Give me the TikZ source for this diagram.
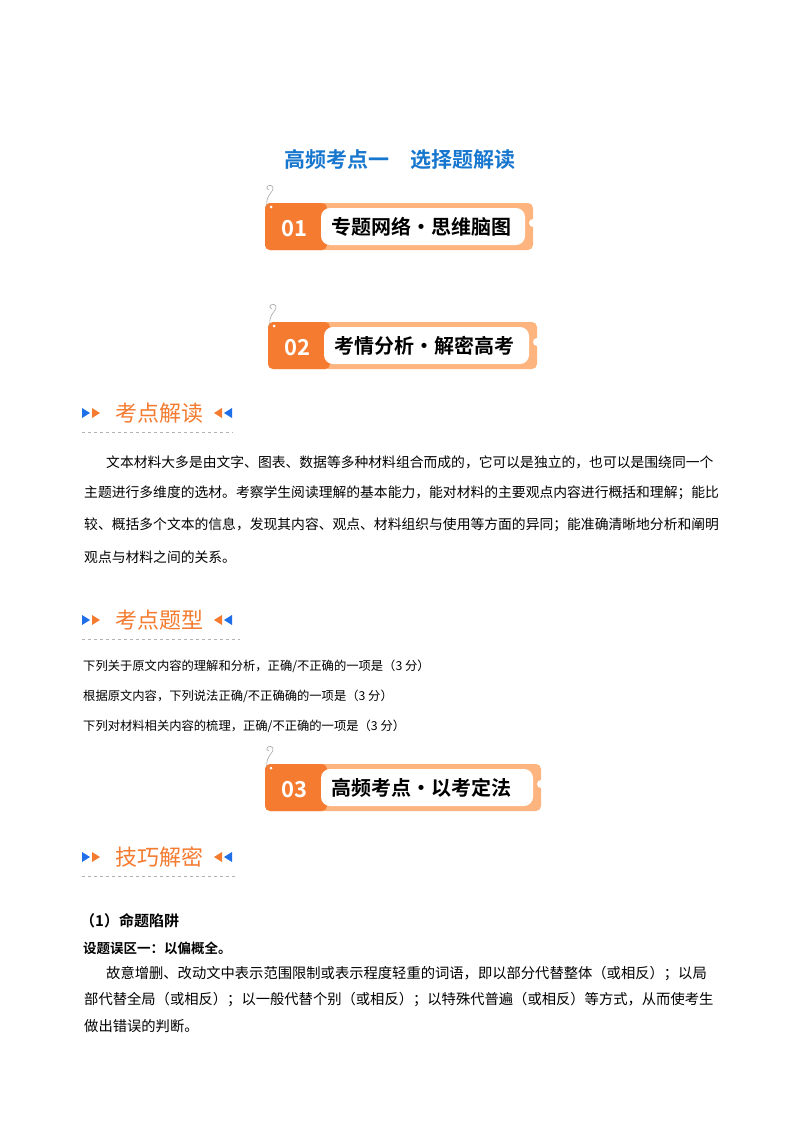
\documentclass[tikz,border=0pt]{standalone}
\usepackage{fontspec}
\setmainfont{Liberation Serif}
\newfontfamily\cjk{Noto Sans CJK SC}
\newfontfamily\cjkb{Noto Sans CJK SC Bold}
\definecolor{dorange}{HTML}{F47B30}
\definecolor{lorange}{HTML}{FDB47E}
\definecolor{tblue}{HTML}{1777CF}
\definecolor{hblue}{HTML}{1E6FE8}
\tikzset{
  body/.style={anchor=west,inner sep=0,font=\cjk\fontsize{13.8}{16}\selectfont},
  head/.style={anchor=west,inner sep=0,text=dorange,font=\cjk\fontsize{22}{24}\selectfont},
  dline/.style={gray!60,dashed,line width=0.5pt}
}
\newcommand{\mybanner}[5]{% x1,y1,x2,num,text
  \fill[lorange,rounded corners=5pt] (#1,#2) rectangle (#3,#2+47);
  \fill[dorange,rounded corners=5pt] (#1,#2) rectangle (#1+62,#2+47);
  \fill[white,rounded corners=9pt] (#1+56,#2+5) rectangle (#3-8,#2+42);
  \fill[white] (#3,#2+20) circle (4);
  \fill[white] (#1+6,#2+4) circle (1.5);
  \draw[gray!70,line width=0.6pt] (#1+2,#2+3) .. controls (#1,#2-8) and (#1+10,#2-12) .. (#1+8,#2-16) .. controls (#1+6,#2-20) and (#1-2,#2-16) .. (#1+4,#2-13);
  \node[white,font=\cjkb\fontsize{22}{24}\selectfont,inner sep=0] (n#4) at (#1+29,#2+26) {#4};
  \node[anchor=west,font=\cjkb\fontsize{20}{22}\selectfont,inner sep=0] (t#4) at (#1+66,#2+24) {#5};
}
\newcommand{\myhead}[4]{% x,y,text,lineend
  \fill[hblue] (#1,#2-5) -- (#1+8,#2) -- (#1,#2+5) -- cycle;
  \fill[dorange] (#1+10,#2-5) -- (#1+18,#2) -- (#1+10,#2+5) -- cycle;
  \node[head] at (#1+33,#2) {#3};
  \fill[dorange] (#1+140,#2-5) -- (#1+132,#2) -- (#1+140,#2+5) -- cycle;
  \fill[hblue] (#1+150,#2-5) -- (#1+142,#2) -- (#1+150,#2+5) -- cycle;
  \draw[dline] (#1,#2+19) -- (#4,#2+19);
}
\begin{document}
\begin{tikzpicture}[x=1pt,y=-1pt]
\useasboundingbox[fill=white] (0,0) rectangle (800,1132);
\node[text=tblue,font=\cjkb\fontsize{21}{24}\selectfont,inner sep=0] (title) at (400,160) {高频考点一\quad 选择题解读};
\mybanner{265}{203}{533}{01}{专题网络·思维脑图}
\mybanner{268}{322}{537}{02}{考情分析·解密高考}
\myhead{82}{413}{考点解读}{233}
\node[body] (p1) at (106,462) {文本材料大多是由文字、图表、数据等多种材料组合而成的，它可以是独立的，也可以是围绕同一个};
\node[body] (p2) at (84,493) {主题进行多维度的选材。考察学生阅读理解的基本能力，能对材料的主要观点内容进行概括和理解；能比};
\node[body] (p3) at (84,525) {较、概括多个文本的信息，发现其内容、观点、材料组织与使用等方面的异同；能准确清晰地分析和阐明};
\node[body] (p4) at (84,557) {观点与材料之间的关系。};
\myhead{82}{620}{考点题型}{240}
\node[body,font=\cjk\fontsize{12.3}{14}\selectfont] (q1) at (83,666) {下列关于原文内容的理解和分析，正确/不正确的一项是（3 分）};
\node[body,font=\cjk\fontsize{12.3}{14}\selectfont] (q2) at (83,696) {根据原文内容，下列说法正确/不正确确的一项是（3 分）};
\node[body,font=\cjk\fontsize{12.3}{14}\selectfont] (q3) at (83,726) {下列对材料相关内容的梳理，正确/不正确的一项是（3 分）};
\mybanner{265}{764}{541}{03}{高频考点·以考定法}
\myhead{82}{857}{技巧解密}{236}
\node[body,font=\cjkb\fontsize{15}{17}\selectfont] (s1) at (80,921) {（1）命题陷阱};
\node[body,font=\cjkb\fontsize{13.5}{15}\selectfont] (s2) at (83,948) {设题误区一：以偏概全。};
\node[body,font=\cjk\fontsize{14.3}{16}\selectfont] (r1) at (106,974) {故意增删、改动文中表示范围限制或表示程度轻重的词语，即以部分代替整体（或相反）；以局};
\node[body,font=\cjk\fontsize{14.3}{16}\selectfont] (r2) at (84,1000) {部代替全局（或相反）；以一般代替个别（或相反）；以特殊代普遍（或相反）等方式，从而使考生};
\node[body,font=\cjk\fontsize{14.3}{16}\selectfont] (r3) at (84,1026) {做出错误的判断。};
\end{tikzpicture}
\end{document}
